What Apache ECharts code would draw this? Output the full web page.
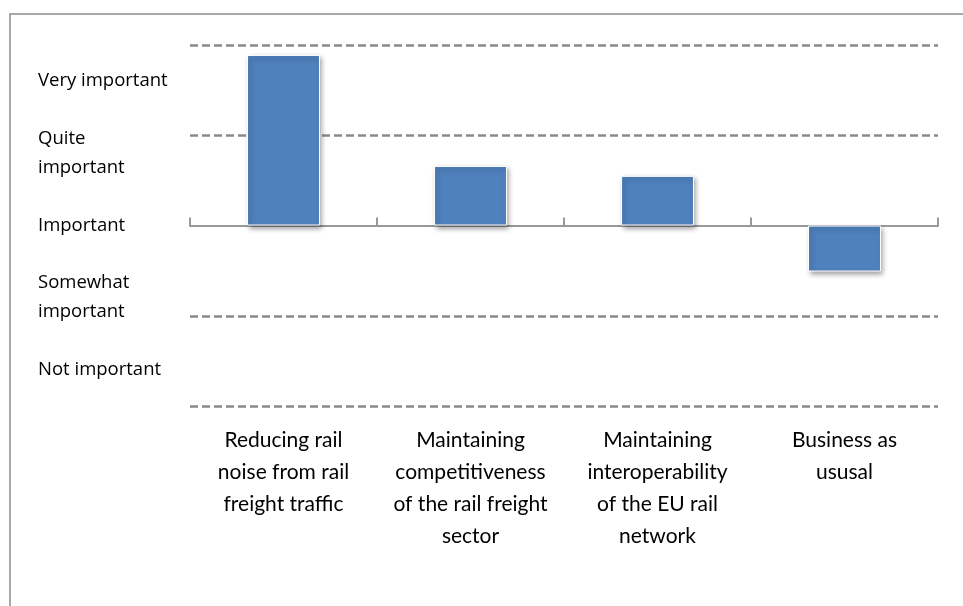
<!DOCTYPE html>
<html>
<head>
<meta charset="utf-8">
<script src="https://cdn.jsdelivr.net/npm/echarts@6/dist/echarts.min.js"></script>
<style>
  html, body { margin: 0; padding: 0; background: #fff; }
  #chart { width: 963px; height: 606px; }
</style>
</head>
<body>
<div id="chart"></div>
<script>
// Priorities, scored around "Important" (0)
const categories = [
  'Reducing rail\nnoise from rail\nfreight traffic',
  'Maintaining\ncompetitiveness\nof the rail freight\nsector',
  'Maintaining\ninteroperability\nof the EU rail\nnetwork',
  'Business as\nususal'
];
const scores = [1.89, 0.66, 0.55, -0.51];

// Rating scale shown down the left side (top to bottom)
const ratingLabels = [
  'Very important',
  'Quite\nimportant',
  'Important',
  'Somewhat\nimportant',
  'Not important'
];

const FONT = 'Lato, "Open Sans", sans-serif';
const SCALE_FONT = '"Open Sans", Lato, sans-serif';
const GRID = '#8a8a8a';

const chart = echarts.init(document.getElementById('chart'), null, { renderer: 'canvas' });

chart.setOption({
  animation: false,
  backgroundColor: '#fff',
  grid: { left: 190, right: 25, top: 45, bottom: 200, containLabel: false },
  graphic: [{
    type: 'rect',
    shape: { x: 10, y: 14, width: 1000, height: 700 },
    style: { fill: 'none', stroke: '#8c8c8c', lineWidth: 1.5 },
    silent: true,
    z: -10
  }],
  xAxis: [{
    type: 'category',
    data: categories,
    position: 'bottom',
    axisLine: { show: false, onZero: false },
    axisTick: { show: false },
    axisLabel: {
      margin: 18,
      fontFamily: FONT,
      fontSize: 21,
      lineHeight: 32,
      color: '#000',
      interval: 0,
      align: 'center'
    },
    splitLine: { show: false }
  }, {
    type: 'category',
    data: categories,
    axisLine: { show: true, onZero: true, lineStyle: { color: '#999', width: 2 } },
    axisTick: { show: true, length: 8, lineStyle: { color: '#999', width: 2 } },
    axisLabel: { show: false },
    splitLine: { show: false }
  }],
  yAxis: [{
    type: 'value',
    min: -2,
    max: 2,
    interval: 1,
    axisLine: { show: false },
    axisTick: { show: false },
    axisLabel: { show: false },
    splitLine: {
      show: true,
      lineStyle: {
        color: [GRID, GRID, 'rgba(0,0,0,0)', GRID, GRID],
        width: 2.5,
        type: [8, 4]
      }
    }
  }, {
    type: 'category',
    data: ratingLabels,
    inverse: true,
    position: 'left',
    axisLine: { show: false },
    axisTick: { show: false },
    splitLine: { show: false },
    axisLabel: {
      align: 'left',
      margin: 152,
      fontFamily: SCALE_FONT,
      fontSize: 18.5,
      lineHeight: 29,
      color: '#000',
      padding: [4, 0, 0, 0]
    }
  }],
  series: [{
    type: 'bar',
    xAxisIndex: 0,
    yAxisIndex: 0,
    data: scores,
    barWidth: '39%',
    itemStyle: {
      color: '#4f81bd',
      borderColor: '#fff',
      borderWidth: 1,
      shadowColor: 'rgba(0,0,0,0.4)',
      shadowBlur: 5,
      shadowOffsetX: 2,
      shadowOffsetY: 3
    },
    z: 3
  }]
});
</script>
</body>
</html>
